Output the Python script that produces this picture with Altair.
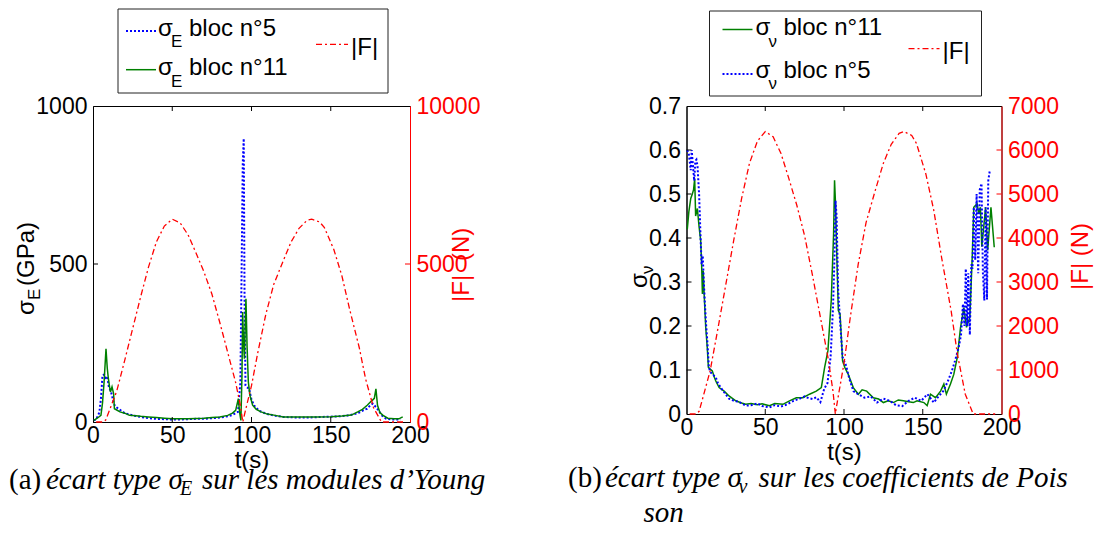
import altair as alt
import pandas as pd

# ---------------- data ----------------
F_T = [2, 4, 6, 8, 11, 15, 20, 25, 30, 35,
       40, 45, 50, 55, 60, 65, 70, 75, 80, 85,
       90, 93, 94.5, 96, 100, 104, 109, 114, 120, 125,
       130, 135, 138, 143, 146, 152, 157, 162, 168, 172,
       177, 182, 186, 190, 196]
F_V = [0, 0, 0, 60, 450, 980, 1950, 2950, 3950, 4900,
       5700, 6200, 6420, 6300, 5920, 5350, 4750, 4050, 3150, 2200,
       1250, 520, 0, 330, 1150, 2200, 3400, 4350, 5100, 5700,
       6130, 6380, 6420, 6330, 6150, 5450, 4630, 3550, 2350, 1360,
       450, 0, 0, 0, 0]

EB_T = [0.5, 2, 4, 5, 6, 7, 8, 9, 10, 11,
        12, 13, 14, 16, 18, 20, 25, 30, 35, 40,
        45, 50, 55, 60, 65, 70, 75, 80, 85, 88,
        90, 91.5, 93, 93.8, 94.5, 95.1, 95.6, 96.2, 97, 98.5,
        100, 102, 105, 110, 115, 120, 125, 130, 135, 140,
        145, 150, 155, 160, 165, 168, 171, 173, 175, 176.5,
        178, 180, 182, 185, 188, 191, 194]
EB_V = [5, 8, 30, 74, 148, 150, 140, 145, 111, 100,
        84, 60, 50, 42, 35, 28, 21, 16, 12, 10,
        9, 8, 8, 9, 10, 10, 12, 14, 18, 22,
        28, 32, 127, 500, 820, 897, 400, 116, 110, 106,
        70, 50, 35, 25, 20, 16, 15, 14, 14, 15,
        16, 17, 18, 20, 25, 30, 38, 42, 53, 58,
        50, 38, 22, 10, 8, 8, 8]

EG_T = [0.5, 2, 3.5, 5, 6, 7, 8.2, 9, 9.7, 10.5,
        11, 12, 13, 13.5, 15, 17, 20, 23, 27, 30,
        35, 40, 45, 50, 55, 60, 65, 70, 75, 80,
        85, 88, 90, 91.7, 92.5, 93.3, 94, 94.4, 95, 95.5,
        96, 96.5, 97.2, 98, 99, 100.7, 103, 106, 110, 115,
        120, 130, 140, 150, 157, 163, 167, 170, 173, 175,
        176.5, 177.5, 178.5, 179.5, 181, 183, 186, 190, 193, 195.4]
EG_V = [5, 10, 15, 21, 60, 127, 232, 170, 137, 110,
        95, 111, 90, 42, 38, 32, 28, 21, 20, 18,
        16, 14, 12, 10, 10, 10, 11, 12, 14, 16,
        21, 28, 37, 74, 30, 5, 150, 348, 250, 200,
        300, 390, 240, 127, 84, 53, 40, 32, 25, 21,
        16, 16, 16, 17, 19, 22, 32, 40, 53, 63,
        70, 75, 105, 53, 30, 21, 12, 10, 10, 16]

NG_T = [0.5, 1.5, 2.7, 3.7, 4.5, 5.2, 5.8, 6.9, 8, 9,
        9.6, 10.1, 10.6, 11.2, 12.2, 13.2, 13.9, 15, 16.4, 17.5,
        18.6, 20.7, 23.9, 27, 31.3, 35, 37.6, 41, 45, 48,
        52.7, 56, 61.2, 65.4, 69.7, 73.9, 78.1, 82.4, 85.6, 87.7,
        89.8, 91.9, 93.4, 94, 94.6, 95.5, 96.4, 97.5, 99.1, 100.5,
        102.7, 105.9, 109.1, 111.5, 114.4, 118.6, 122, 125, 128, 131.4,
        134.5, 137.7, 141, 144, 146.4, 150.7, 152.8, 154.9, 158.1, 161.3,
        163.4, 165, 167.6, 169.7, 171.9, 174, 176.1, 177.8, 179.9, 181.4,
        182.4, 184.5, 185.6, 186.6, 187.5, 189.9, 191.2, 193.3, 195.4]
NG_V = [0.42, 0.46, 0.49, 0.50, 0.51, 0.535, 0.45, 0.467, 0.425, 0.394,
        0.341, 0.273, 0.326, 0.273, 0.197, 0.15, 0.106, 0.102, 0.098, 0.085,
        0.075, 0.06, 0.052, 0.041, 0.030, 0.025, 0.022, 0.024, 0.021, 0.023,
        0.019, 0.024, 0.022, 0.030, 0.037, 0.037, 0.045, 0.052, 0.06, 0.106,
        0.144, 0.258, 0.41, 0.531, 0.479, 0.35, 0.235, 0.227, 0.121, 0.106,
        0.09, 0.06, 0.045, 0.055, 0.052, 0.037, 0.034, 0.026, 0.03, 0.026,
        0.032, 0.030, 0.028, 0.026, 0.030, 0.026, 0.019, 0.045, 0.037, 0.052,
        0.068, 0.045, 0.068, 0.09, 0.128, 0.197, 0.242, 0.197, 0.22, 0.356,
        0.47, 0.478, 0.455, 0.47, 0.38, 0.47, 0.372, 0.47, 0.379]

NB_T = [0.5, 1.5, 2.7, 3.3, 4.2, 4.9, 5.6, 6.3, 7, 8,
        9, 9.6, 10.3, 11, 11.8, 12.5, 13.2, 14.2, 15.2, 16.4,
        18.6, 20, 21.7, 24.8, 27, 30.1, 33, 37.6, 41, 45,
        48, 52.7, 56, 60, 64, 68, 72, 75, 77.5, 80,
        82.5, 85, 87.5, 89.5, 91.5, 93, 94, 94.6, 95.3, 96.3,
        97.5, 99.1, 101.3, 103.4, 106, 109, 113, 117, 121, 125,
        129, 133, 137, 141, 145, 149, 153, 157, 160, 163,
        166, 168.5, 170.5, 172.8, 174.3, 175.5, 176.5, 177.3, 178.2, 178.9,
        179.9, 180.8, 181.6, 182.4, 183.3, 184.2, 185.2, 186.2, 187.3, 188.2,
        189.1, 189.9, 190.8, 191.6, 192.6]
NB_V = [0.60, 0.59, 0.554, 0.60, 0.56, 0.53, 0.575, 0.578, 0.563, 0.50,
        0.394, 0.34, 0.36, 0.30, 0.242, 0.2, 0.166, 0.106, 0.095, 0.091,
        0.083, 0.07, 0.06, 0.045, 0.035, 0.030, 0.028, 0.019, 0.02, 0.024,
        0.018, 0.015, 0.02, 0.017, 0.022, 0.03, 0.035, 0.04, 0.036, 0.034,
        0.038, 0.027, 0.058, 0.07, 0.13, 0.24, 0.36, 0.485, 0.45, 0.28,
        0.212, 0.129, 0.11, 0.08, 0.052, 0.045, 0.037, 0.04, 0.026, 0.035,
        0.03, 0.02, 0.018, 0.03, 0.037, 0.03, 0.045, 0.026, 0.04, 0.052,
        0.075, 0.098, 0.121, 0.151, 0.18, 0.25, 0.2, 0.33, 0.2, 0.32,
        0.18, 0.34, 0.33, 0.47, 0.35, 0.50, 0.32, 0.51, 0.524, 0.32,
        0.258, 0.47, 0.26, 0.53, 0.554]

X_TICKS = [0, 50, 100, 150, 200]
X_INNER = [50, 100, 150]
E_TICKS = [0, 500, 1000]
E_INNER = [500]
FE_TICKS = [0, 5000, 10000]
FE_INNER = [5000]
N_TICKS = [0, 0.1, 0.2, 0.3, 0.4, 0.5, 0.6, 0.7]
N_INNER = [0.1, 0.2, 0.3, 0.4, 0.5, 0.6]
FN_TICKS = [0, 1000, 2000, 3000, 4000, 5000, 6000, 7000]
FN_INNER = [1000, 2000, 3000, 4000, 5000, 6000]

BLUE, GREEN, RED = "#0000ff", "#008000", "#ff0000"
SANS, SERIF = "Liberation Sans", "Liberation Serif"
DOT, DASHDOT = [2, 2], [6, 3, 2, 3]
ONE = pd.DataFrame({"d": [0]})
CAP = 29
SUB = 20


def txt(s, x, y, size=24, color="black", font=SANS, style="normal", angle=0):
    return alt.Chart(ONE).mark_text(
        text=s, fontSize=size, font=font, fontStyle=style, color=color,
        angle=angle, align="left", baseline="alphabetic"
    ).encode(x=alt.value(x), y=alt.value(y))


def hline(x1, x2, y, color, dash=None, width=1.5):
    kw = dict(color=color, strokeWidth=width)
    if dash:
        kw["strokeDash"] = dash
    return alt.Chart(ONE).mark_rule(**kw).encode(
        x=alt.value(x1), x2=alt.value(x2), y=alt.value(y))


def box(x1, x2, y1, y2):
    return alt.Chart(ONE).mark_rect(fill="white", stroke="#222", strokeWidth=1).encode(
        x=alt.value(x1), x2=alt.value(x2), y=alt.value(y1), y2=alt.value(y2))


def panel(W, H, left_series, ldom, lticks, linner, lfmt, fdom, fticks, finner, extras):
    xs = alt.Scale(domain=[0, 200], nice=False)
    xa = alt.Axis(values=X_TICKS, ticks=False, grid=False, format="d",
                  title="t(s)", labelPadding=2, titlePadding=1, domainColor="black",
                  labelFlush=False, labelOverlap=False)
    X = alt.X("t:Q", scale=xs, axis=xa)
    ls = alt.Scale(domain=ldom, nice=False)
    la = alt.Axis(values=lticks, ticks=False, grid=False, title=None, orient="left",
                  labelPadding=6, labelExpr=lfmt, domainColor="black", labelOverlap=False,
                  labelFlush=False)
    YL = alt.Y("v:Q", scale=ls, axis=la)
    rs = alt.Scale(domain=fdom, nice=False)
    ra = alt.Axis(values=fticks, ticks=False, grid=False, title=None, orient="right",
                  labelPadding=6, format="d", domainColor=RED, labelColor=RED,
                  labelOverlap=False, labelFlush=False)
    YR = alt.Y("v:Q", scale=rs, axis=ra)

    layers_a = []
    for (tt, vv, color, dash, wd) in left_series:
        df = pd.DataFrame({"t": tt, "v": vv})
        kw = dict(color=color, strokeWidth=wd)
        if dash:
            kw["strokeDash"] = dash
        layers_a.append(alt.Chart(df).mark_line(**kw).encode(x=X, y=YL))
    layers_a.append(alt.Chart(pd.DataFrame({"v": linner})).mark_rule(color="black").encode(
        y=YL, x=alt.value(0), x2=alt.value(5)))
    xt = pd.DataFrame({"t": X_INNER})
    layers_a.append(alt.Chart(xt).mark_rule(color="black").encode(
        x=X, y=alt.value(H), y2=alt.value(H - 5)))
    layers_a.append(alt.Chart(xt).mark_rule(color="black").encode(
        x=X, y=alt.value(0), y2=alt.value(5)))
    A = alt.layer(*layers_a)

    fdf = pd.DataFrame({"t": F_T, "v": F_V})
    B = alt.layer(
        alt.Chart(fdf).mark_line(color=RED, strokeDash=DASHDOT, strokeWidth=1.3).encode(x=X, y=YR),
        alt.Chart(pd.DataFrame({"v": finner})).mark_rule(color=RED).encode(
            y=YR, x=alt.value(W - 5), x2=alt.value(W)),
    )
    C = alt.layer(*extras)
    return alt.layer(A, B, C).resolve_scale(y="independent").properties(width=W, height=H)


W1, H1 = 317, 316
W2, H2 = 315, 308

left_extras = [
    box(25, 295, -97, -13),
    hline(33, 63, -75, BLUE, DOT, 2),
    txt("σ", 65, -70.5), txt("E", 78, -59, 17), txt("bloc n°5", 96, -70.5),
    hline(33, 63, -36.3, GREEN, None, 1.5),
    txt("σ", 65, -31), txt("E", 78, -19.5, 17), txt("bloc n°11", 96, -31),
    hline(223, 255, -61.7, RED, DASHDOT, 1.3),
    txt("|F|", 258, -51),
    # left y title (rotated)
    txt("σ", -59, 209, angle=270), txt("E", -53, 194, 17, angle=270),
    txt("(GPa)", -59, 180, angle=270),
    # right y title (the gap falls on the 5000 label, as in the figure)
    txt("|F|", 376, 196, color=RED, angle=270),
    txt("(N)", 376, 155, color=RED, angle=270),
    # caption (a)
    txt("(a)", -84, 383, CAP, font=SERIF),
    txt("écart type σ", -47, 383, CAP, font=SERIF, style="italic"),
    txt("E", 87, 389, SUB, font=SERIF, style="italic"),
    txt("sur les modules d’Young", 109, 383, CAP, font=SERIF, style="italic"),
]

right_extras = [
    box(23, 295, -95, -10),
    hline(36, 66, -76.5, GREEN, None, 1.5),
    txt("σ", 69, -71.3), txt("ν", 82, -59, 17), txt("bloc n°11", 97, -71.3),
    hline(36, 66, -32, BLUE, DOT, 2),
    txt("σ", 69, -28), txt("ν", 82, -17.5, 17), txt("bloc n°5", 97, -28),
    hline(222, 253, -57.4, RED, DASHDOT, 1.3),
    txt("|F|", 256, -47),
    txt("σ", -40, 182, angle=270), txt("ν", -33.5, 168, 17, angle=270),
    txt("|F| (N)", 401.5, 184, color=RED, angle=270),
    txt("(b)", -118.5, 381, CAP, font=SERIF),
    txt("écart type σ", -81.5, 381, CAP, font=SERIF, style="italic"),
    txt("ν", 52, 387, SUB, font=SERIF, style="italic"),
    txt("sur les coefficients de Pois", 72, 381, CAP, font=SERIF, style="italic"),
    txt("son", -43, 416, CAP, font=SERIF, style="italic"),
]

left = panel(W1, H1,
             [(EB_T, EB_V, BLUE, DOT, 2), (EG_T, EG_V, GREEN, None, 1.5)],
             [0, 1000], E_TICKS, E_INNER, "format(datum.value, 'd')",
             [0, 10000], FE_TICKS, FE_INNER, left_extras)

right = panel(W2, H2,
              [(NG_T, NG_V, GREEN, None, 1.5), (NB_T, NB_V, BLUE, DOT, 2)],
              [0, 0.7], N_TICKS, N_INNER,
              "datum.value == 0 ? '0' : format(datum.value, '.1f')",
              [0, 7000], FN_TICKS, FN_INNER, right_extras)

chart = alt.hconcat(left, right, spacing=276.5, bounds="flush").properties(
    padding={"left": 0, "top": 0, "right": 0, "bottom": 0},
    background="white",
).configure_view(stroke="black", strokeWidth=1).configure_axis(
    labelFont=SANS, labelFontSize=23, labelColor="black",
    titleFont=SANS, titleFontSize=24, titleFontWeight="normal", titleColor="black",
    domainWidth=1,
)

chart.save("out.html", embed_options={"renderer": "svg", "actions": False})
